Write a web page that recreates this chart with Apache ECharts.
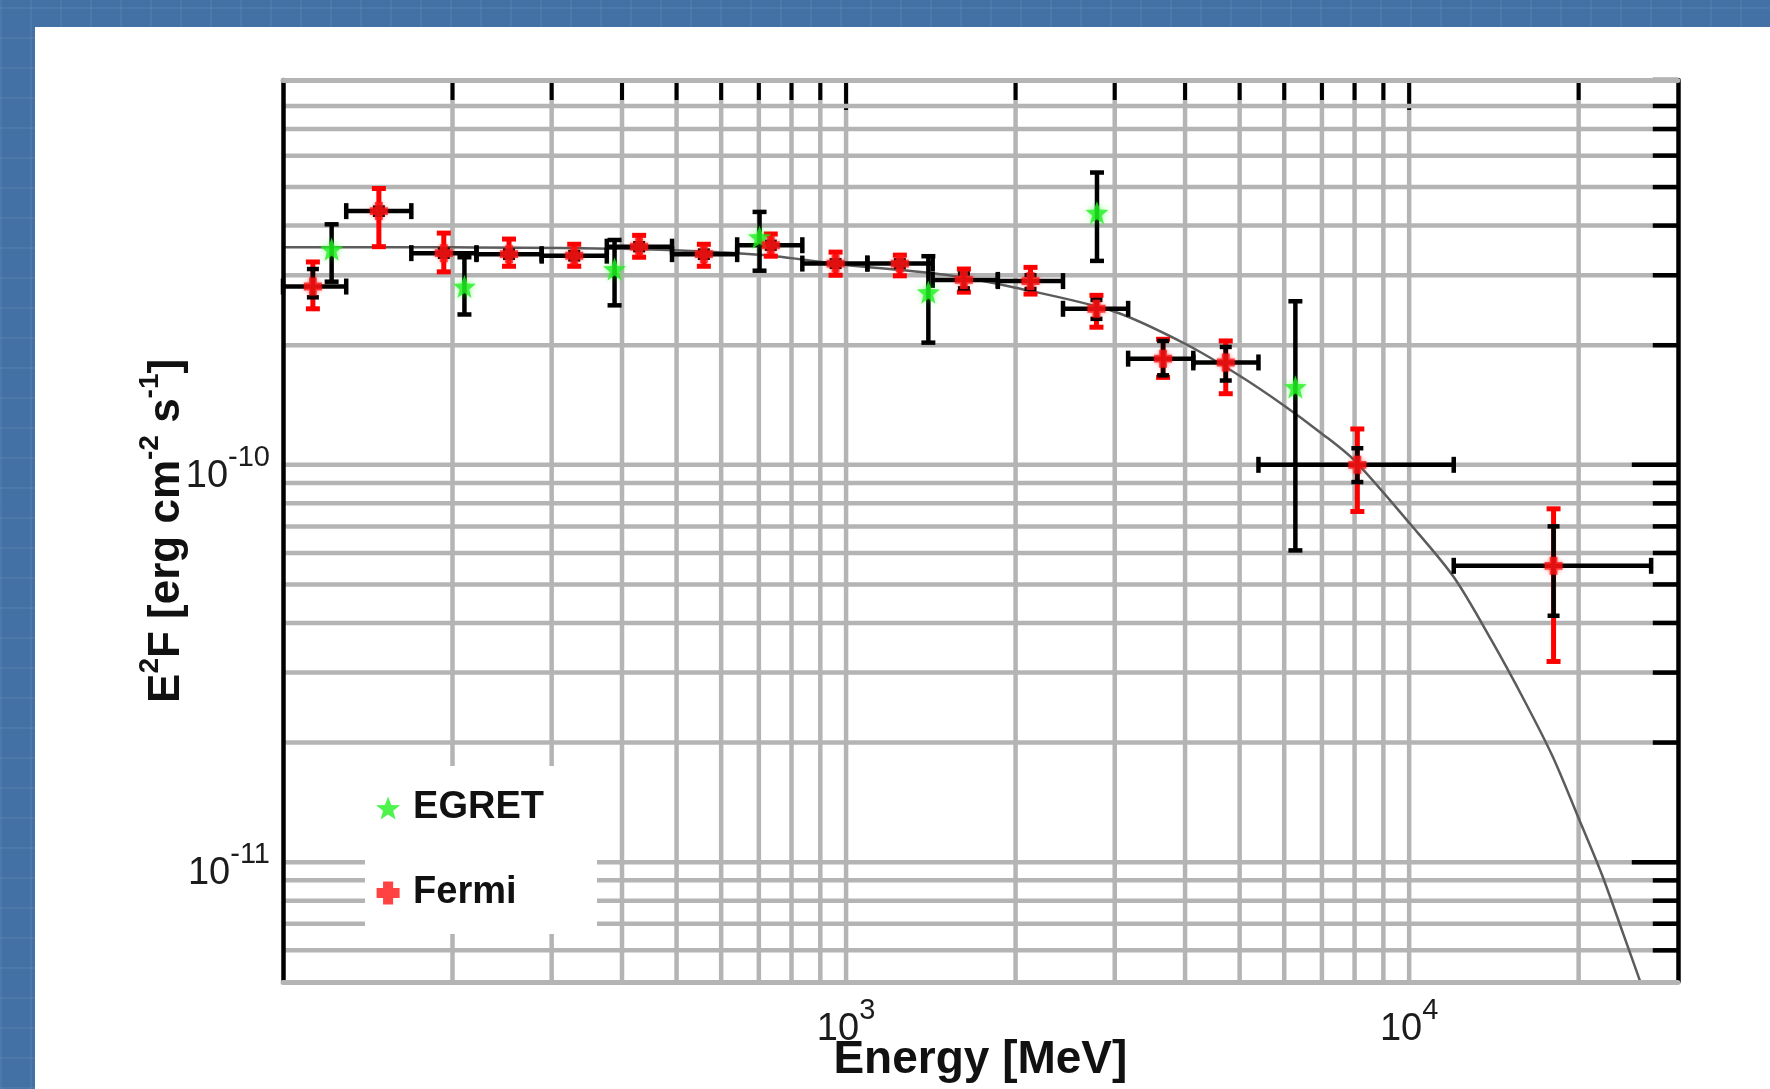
<!DOCTYPE html>
<html>
<head>
<meta charset="utf-8">
<title>E2F spectrum: EGRET and Fermi</title>
<script src="https://cdn.jsdelivr.net/npm/echarts@6/dist/echarts.min.js"></script>
<style>
  html, body { margin: 0; padding: 0; width: 1770px; height: 1089px; overflow: hidden; }
  body {
    position: relative;
    background-color: #4371a5;
    background-image:
      repeating-linear-gradient(90deg, rgba(255,255,255,0.05) 0 2px, transparent 2px 30px),
      repeating-linear-gradient(0deg, rgba(255,255,255,0.05) 0 2px, transparent 2px 30px);
  }
  #chart { position: absolute; left: 35px; top: 27px; width: 1735px; height: 1062px; background: #fff; }
</style>
</head>
<body>
<div id="chart"></div>
<script>
// ---- axis ranges -------------------------------------------------------
const xMin = 100, xMax = 30000;          // Energy [MeV]
const yMin = 5e-12, yMax = 9.3e-10;      // E^2 F [erg cm^-2 s^-1]

// labelled decades
const xTickLabels = [1000, 10000];
const yTickLabels = [1e-11, 1e-10];

// log grid lines
const xGridValues = [200, 300, 400, 500, 600, 700, 800, 900, 1000,
                     2000, 3000, 4000, 5000, 6000, 7000, 8000, 9000, 10000, 20000];
const xMajorValues = [1000, 10000];
const yGridValues = [6e-12, 7e-12, 8e-12, 9e-12, 1e-11,
                     2e-11, 3e-11, 4e-11, 5e-11, 6e-11, 7e-11, 8e-11, 9e-11, 1e-10,
                     2e-10, 3e-10, 4e-10, 5e-10, 6e-10, 7e-10, 8e-10, 9e-10];
const yMajorValues = [1e-11, 1e-10];

// ---- EGRET points --------------------------------------------------------
const egretEnergy = [122, 210, 388, 702, 1400, 2790, 6280];
const egretFlux   = [3.49e-10, 2.81e-10, 3.11e-10, 3.74e-10, 2.72e-10, 4.31e-10, 1.57e-10];
const egretLow    = [2.89e-10, 2.39e-10, 2.52e-10, 3.08e-10, 2.03e-10, 3.26e-10, 0.609e-10];
const egretHigh   = [4.03e-10, 3.33e-10, 3.68e-10, 4.33e-10, 3.35e-10, 5.44e-10, 2.58e-10];

// ---- Fermi points --------------------------------------------------------
const fermiEnergy  = [113, 148, 193, 252, 329, 429, 559, 735, 958, 1246, 1619, 2126, 2784, 3656, 4724, 8091, 18050];
const fermiBinLow  = [100, 129.5, 169, 220.6, 288, 375.9, 490.8, 640.6, 836.2, 1091, 1425, 1860, 2428, 3169, 4137, 5400, 12000];
const fermiBinHigh = [129.5, 169, 220.6, 288, 375.9, 490.8, 640.6, 836.2, 1091, 1425, 1860, 2428, 3169, 4137, 5400, 12000, 26900];
const fermiFlux    = [2.81e-10, 4.35e-10, 3.41e-10, 3.39e-10, 3.36e-10, 3.54e-10, 3.39e-10, 3.57e-10, 3.21e-10,
                      3.21e-10, 2.92e-10, 2.90e-10, 2.47e-10, 1.85e-10, 1.81e-10, 1.00e-10, 0.557e-10];
const fermiStatLow  = [2.64e-10, 4.26e-10, 3.34e-10, 3.32e-10, 3.29e-10, 3.47e-10, 3.32e-10, 3.50e-10, 3.15e-10,
                       3.15e-10, 2.78e-10, 2.77e-10, 2.33e-10, 1.68e-10, 1.63e-10, 0.905e-10, 0.417e-10];
const fermiStatHigh = [3.11e-10, 4.44e-10, 3.48e-10, 3.46e-10, 3.43e-10, 3.61e-10, 3.46e-10, 3.64e-10, 3.27e-10,
                       3.27e-10, 3.03e-10, 3.00e-10, 2.60e-10, 2.05e-10, 1.98e-10, 1.101e-10, 0.700e-10];
const fermiSysLow   = [2.47e-10, 3.54e-10, 3.06e-10, 3.16e-10, 3.16e-10, 3.33e-10, 3.16e-10, 3.35e-10, 3.00e-10,
                       2.99e-10, 2.72e-10, 2.69e-10, 2.22e-10, 1.66e-10, 1.51e-10, 0.763e-10, 0.320e-10];
const fermiSysHigh  = [3.24e-10, 4.96e-10, 3.83e-10, 3.70e-10, 3.59e-10, 3.78e-10, 3.59e-10, 3.81e-10, 3.43e-10,
                       3.37e-10, 3.11e-10, 3.14e-10, 2.67e-10, 2.07e-10, 2.05e-10, 1.231e-10, 0.775e-10];

// ---- spectral model curve ----------------------------------------------
const modelEnergy = [100, 200, 400, 700, 1000, 1500, 2000, 3000, 4000, 5000, 6000, 7000, 8000,
                     10000, 12000, 14000, 16000, 18000, 20000, 22000, 24000, 26000, 27000];
const modelFlux   = [3.53e-10, 3.526e-10, 3.496e-10, 3.377e-10, 3.184e-10, 3.007e-10, 2.790e-10, 2.428e-10,
                     2.017e-10, 1.676e-10, 1.409e-10, 1.198e-10, 1.025e-10, 7.15e-11, 5.22e-11, 3.62e-11,
                     2.56e-11, 1.84e-11, 1.29e-11, 9.3e-12, 6.6e-12, 4.8e-12, 4.1e-12];

// ---- styling -------------------------------------------------------------
const FONT = '"Liberation Sans", Arial, Helvetica, sans-serif';
const GRID_GRAY = '#b4b4b4';
const STAR = 'path://M0,-10 L2.469,-3.398 L9.511,-3.09 L3.995,1.298 L5.878,8.09 L0,4.2 L-5.878,8.09 L-3.995,1.298 L-9.511,-3.09 L-2.469,-3.398 Z';
const PLUS = 'path://M-3.5,-8 H3.5 V-3.5 H8 V3.5 H3.5 V8 H-3.5 V3.5 H-8 V-3.5 H-3.5 Z';

function seg(x1, y1, x2, y2, color, w) {
  return { type: 'line', shape: { x1, y1, x2, y2 }, style: { stroke: color, lineWidth: w, lineCap: 'butt' } };
}

function decadeFormatter(labels) {
  return function (v) {
    for (const t of labels) {
      if (Math.abs(Math.log10(v) - Math.log10(t)) < 1e-6) {
        return '{b|10}{s|' + Math.round(Math.log10(t)) + '}';
      }
    }
    return '';
  };
}

const tickRich = {
  b: { fontSize: 38, lineHeight: 52, verticalAlign: 'bottom', fontFamily: FONT, color: '#1c1c1c' },
  s: { fontSize: 29, lineHeight: 20, verticalAlign: 'top', fontFamily: FONT, color: '#1c1c1c' }
};
const nameRich = {
  b: { fontSize: 44, lineHeight: 53, verticalAlign: 'bottom', fontWeight: 'bold', fontFamily: FONT, color: '#111' },
  s: { fontSize: 28, lineHeight: 22, verticalAlign: 'top', fontWeight: 'bold', fontFamily: FONT, color: '#111' }
};

// ---- series data built from the arrays above --------------------------
const egretPoints = egretEnergy.map((e, i) => [e, egretFlux[i]]);
const egretBars = egretEnergy.map((e, i) => [e, egretFlux[i], egretLow[i], egretHigh[i]]);
const fermiPoints = fermiEnergy.map((e, i) => [e, fermiFlux[i]]);
const fermiBars = fermiEnergy.map((e, i) => [e, fermiFlux[i], fermiBinLow[i], fermiBinHigh[i],
  fermiStatLow[i], fermiStatHigh[i], fermiSysLow[i], fermiSysHigh[i]]);
const modelLine = modelEnergy.map((e, i) => [e, modelFlux[i]]);

const chart = echarts.init(document.getElementById('chart'), null, { renderer: 'canvas' });

const option = {
  animation: false,
  textStyle: { fontFamily: FONT },
  grid: { left: 248, top: 53, width: 1394.8, height: 901.8, containLabel: false, outerBoundsMode: 'none' },
  legend: {
    orient: 'vertical',
    left: 330, top: 739,
    padding: [23, 53, 22, 11],
    itemGap: 47,
    itemWidth: 40, itemHeight: 23,
    symbolKeepAspect: true,
    backgroundColor: '#ffffff',
    selectedMode: false,
    z: 20,
    textStyle: { fontSize: 38, fontWeight: 'bold', color: '#111', fontFamily: FONT },
    data: [{ name: 'EGRET', icon: STAR }, { name: 'Fermi', icon: PLUS }]
  },
  xAxis: [
    {
      type: 'log', logBase: 10, min: xMin, max: xMax, position: 'bottom', z: 10,
      axisLine: { show: true, onZero: false, lineStyle: { color: GRID_GRAY, width: 5 } },
      axisTick: { show: false }, minorTick: { show: false },
      splitLine: { show: false }, minorSplitLine: { show: false },
      axisLabel: { formatter: decadeFormatter(xTickLabels), rich: tickRich, margin: 15,
                   showMinLabel: false, showMaxLabel: false },
      name: 'Energy [MeV]', nameLocation: 'middle', nameGap: 56, nameMoveOverlap: false,
      nameTextStyle: { fontSize: 46, lineHeight: 46, fontWeight: 'bold', color: '#111', fontFamily: FONT }
    },
    {
      type: 'log', logBase: 10, min: xMin, max: xMax, position: 'top', z: 10,
      axisLine: { show: true, onZero: false, lineStyle: { color: GRID_GRAY, width: 5 } },
      axisTick: { show: false }, axisLabel: { show: false }, splitLine: { show: false }
    }
  ],
  yAxis: [
    {
      type: 'log', logBase: 10, min: yMin, max: yMax, position: 'left', z: 10,
      axisLine: { show: true, onZero: false, lineStyle: { color: '#000', width: 4.5 } },
      axisTick: { show: false }, minorTick: { show: false },
      splitLine: { show: false }, minorSplitLine: { show: false },
      axisLabel: { formatter: decadeFormatter(yTickLabels), rich: tickRich, margin: 13,
                   padding: [9, 0, 0, 0], showMinLabel: false, showMaxLabel: false },
      name: '{b|E}{s|2}{b|F [erg cm}{s|-2}{b| s}{s|-1}{b|]}',
      nameLocation: 'middle', nameRotate: 90, nameGap: 94, nameMoveOverlap: false,
      nameTextStyle: { rich: nameRich }
    },
    {
      type: 'log', logBase: 10, min: yMin, max: yMax, position: 'right', z: 10,
      axisLine: { show: true, onZero: false, lineStyle: { color: '#000', width: 4.5 } },
      axisTick: { show: false }, axisLabel: { show: false }, splitLine: { show: false }
    }
  ],
  series: [
    // vertical grid lines with top ticks
    {
      type: 'custom', name: 'xgrid', silent: true, z: 1,
      data: xGridValues.map(v => [v, yMin]),
      renderItem: function (params, api) {
        const cs = params.coordSys;
        const v = api.value(0);
        const x = api.coord([v, yMin])[0];
        const len = xMajorValues.includes(v) ? 30 : 20;
        return { type: 'group', children: [
          seg(x, cs.y, x, cs.y + cs.height, GRID_GRAY, 4.5),
          seg(x, cs.y, x, cs.y + len, '#000', 4)
        ] };
      }
    },
    // horizontal grid lines with right-hand ticks; the line nearest the top edge merges into the frame
    {
      type: 'custom', name: 'ygrid', silent: true, z: 1,
      data: yGridValues.map(v => [xMin, v]),
      renderItem: function (params, api) {
        const cs = params.coordSys;
        const v = api.value(1);
        let y = api.coord([xMin, v])[1];
        const right = cs.x + cs.width;
        const len = yMajorValues.some(m => Math.abs(m - v) / m < 1e-6) ? 46 : 25;
        const children = [];
        if (y - cs.y > 10) {
          children.push(seg(cs.x, y, right, y, GRID_GRAY, 4.5));
        } else {
          y = cs.y;
        }
        children.push(seg(right - len, y, right, y, '#000', 4.5));
        return { type: 'group', children };
      }
    },
    // spectral model
    {
      type: 'line', name: 'model', data: modelLine, smooth: 0.3, showSymbol: false,
      symbol: 'none', silent: true, z: 2, clip: true,
      lineStyle: { color: '#5c5c5c', width: 2.5 }
    },
    // Fermi energy bins and error bars
    {
      type: 'custom', name: 'fermiErr', silent: true, z: 3,
      data: fermiBars,
      renderItem: function (params, api) {
        const e = api.value(0), f = api.value(1);
        const p = api.coord([e, f]);
        const xl = api.coord([api.value(2), f])[0];
        const xh = api.coord([api.value(3), f])[0];
        const yStatLo = api.coord([e, api.value(4)])[1];
        const yStatHi = api.coord([e, api.value(5)])[1];
        const ySysLo = api.coord([e, api.value(6)])[1];
        const ySysHi = api.coord([e, api.value(7)])[1];
        const x = p[0], y = p[1];
        const red = '#ff0000', blk = '#000';
        return { type: 'group', children: [
          // horizontal bin bar
          seg(xl, y, xh, y, blk, 4.5),
          seg(xl, y - 8, xl, y + 8, blk, 4.5),
          seg(xh, y - 8, xh, y + 8, blk, 4.5),
          // systematic range
          seg(x, ySysHi, x, ySysLo, red, 5),
          seg(x - 7, ySysHi, x + 7, ySysHi, red, 5),
          seg(x - 7, ySysLo, x + 7, ySysLo, red, 5),
          // statistical range
          seg(x, yStatHi, x, yStatLo, blk, 4.5),
          seg(x - 6, yStatHi, x + 6, yStatHi, blk, 4.5),
          seg(x - 6, yStatLo, x + 6, yStatLo, blk, 4.5)
        ] };
      }
    },
    // EGRET error bars
    {
      type: 'custom', name: 'egretErr', silent: true, z: 3,
      data: egretBars,
      renderItem: function (params, api) {
        const e = api.value(0);
        const x = api.coord([e, api.value(1)])[0];
        const yLo = api.coord([e, api.value(2)])[1];
        const yHi = api.coord([e, api.value(3)])[1];
        return { type: 'group', children: [
          seg(x, yHi, x, yLo, '#000', 4.5),
          seg(x - 7, yHi, x + 7, yHi, '#000', 4.5),
          seg(x - 7, yLo, x + 7, yLo, '#000', 4.5)
        ] };
      }
    },
    {
      type: 'scatter', name: 'EGRET', data: egretPoints, z: 5,
      symbol: STAR, symbolSize: 23,
      itemStyle: { color: '#22f022', shadowBlur: 6, shadowColor: 'rgba(0,255,0,0.5)' }
    },
    {
      type: 'scatter', name: 'Fermi', data: fermiPoints, z: 5,
      symbol: PLUS, symbolSize: 18,
      itemStyle: { color: '#ff1414', shadowBlur: 4, shadowColor: 'rgba(255,0,0,0.5)' }
    }
  ]
};

chart.setOption(option);
</script>
</body>
</html>
